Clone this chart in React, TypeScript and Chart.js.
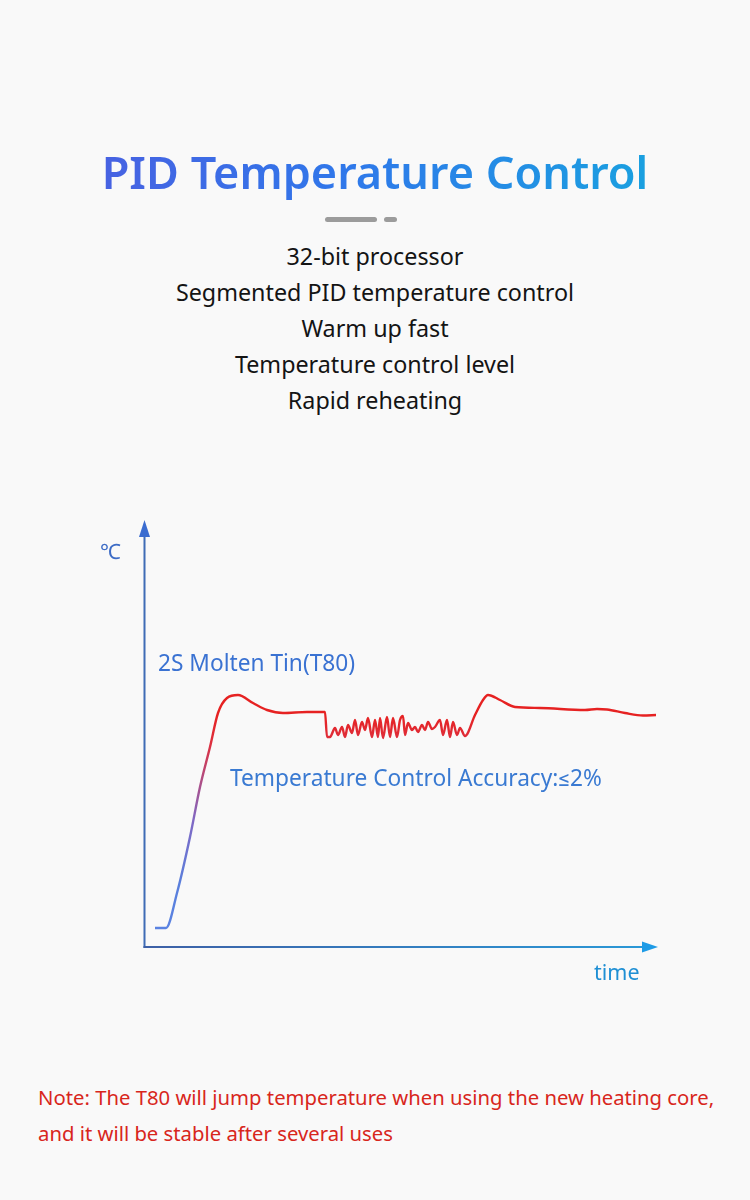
import React, { useEffect, useRef } from "react";
import { Chart, registerables } from "chart.js";

Chart.register(...registerables);

const TITLE = "PID Temperature Control";
const FEATURES = [
  "32-bit processor",
  "Segmented PID temperature control",
  "Warm up fast",
  "Temperature control level",
  "Rapid reheating",
];
const NOTE_LINES = [
  "Note: The T80 will jump temperature when using the new heating core,",
  "and it will be stable after several uses",
];
const Y_UNIT = "℃";
const X_LABEL = "time";
const SERIES_LABEL = "2S Molten Tin(T80)";
const ACCURACY_LABEL = "Temperature Control Accuracy:≤2%";

// time (arbitrary units) and temperature (arbitrary units)
const TIME = [
  1.0, 2.1, 3.2, 4.5, 5.5, 6.5, 7.3, 8.2, 9.3, 10.8, 12.2, 13.8, 16.2, 18.0, 18.2,
  18.5, 19.0, 19.3, 19.7, 20.0, 20.3, 20.7, 21.0, 21.3, 21.7, 22.0, 22.3, 22.7, 23.0,
  23.3, 23.5, 23.8, 24.2, 24.5, 24.8, 25.2, 25.5, 25.8, 26.0, 26.3, 26.7, 27.0, 27.3,
  27.7, 28.0, 28.3, 28.7, 29.0, 29.5, 29.8, 30.2, 30.5, 30.8, 31.2, 31.5, 32.0,
  33.0, 33.8, 34.3, 35.5, 37.0, 39.5, 44.0, 45.2, 46.2, 48.0, 49.8, 51.1,
];
const TEMP = [
  1.9, 1.9, 5.4, 11.0, 16.0, 20.0, 23.4, 24.9, 25.2, 24.4, 23.7, 23.4, 23.5, 23.5, 21.0,
  21.0, 21.9, 21.2, 22.0, 21.0, 22.2, 21.4, 22.7, 21.2, 22.5, 21.7, 22.9, 21.0, 22.7,
  21.0, 22.9, 20.9, 23.0, 21.0, 22.9, 21.0, 22.7, 23.1, 21.2, 22.4, 21.7, 22.0, 21.5,
  22.2, 21.7, 22.5, 21.8, 22.0, 22.7, 21.2, 22.7, 21.0, 22.5, 21.2, 21.9, 21.1,
  23.2, 24.7, 25.2, 24.7, 24.0, 23.9, 23.7, 23.8, 23.75, 23.4, 23.15, 23.2,
];
const X_MAX = 51.3;
const Y_MAX = 42.2;

const FONT = "'Noto Sans', Roboto, sans-serif";

const arrowAxes = {
  id: "arrowAxes",
  beforeDatasetsDraw(chart: any) {
    const { ctx, chartArea: a } = chart;
    ctx.save();
    const x0 = a.left - 0.5;
    const y0 = a.bottom;
    ctx.lineWidth = 2;
    ctx.strokeStyle = "#3f6cb6";
    ctx.beginPath();
    ctx.moveTo(x0, y0 + 1);
    ctx.lineTo(x0, a.top + 8);
    ctx.stroke();
    ctx.fillStyle = "#3a6cd0";
    ctx.beginPath();
    ctx.moveTo(x0, a.top - 5);
    ctx.lineTo(x0 - 5.5, a.top + 12);
    ctx.lineTo(x0 + 5.5, a.top + 12);
    ctx.closePath();
    ctx.fill();

    const g = ctx.createLinearGradient(x0, 0, a.right, 0);
    g.addColorStop(0, "#3e60a6");
    g.addColorStop(1, "#2a9ad8");
    ctx.strokeStyle = g;
    ctx.beginPath();
    ctx.moveTo(x0 - 1, y0);
    ctx.lineTo(a.right - 8, y0);
    ctx.stroke();
    ctx.fillStyle = "#1e9be6";
    ctx.beginPath();
    ctx.moveTo(a.right, y0);
    ctx.lineTo(a.right - 16, y0 - 5.5);
    ctx.lineTo(a.right - 16, y0 + 5.5);
    ctx.closePath();
    ctx.fill();
    ctx.restore();
  },
};

function TempChart() {
  const ref = useRef<HTMLCanvasElement>(null);
  useEffect(() => {
    if (!ref.current) return;
    const chart = new Chart(ref.current, {
      type: "line",
      data: {
        datasets: [
          {
            label: SERIES_LABEL,
            data: TIME.map((t, i) => ({ x: t, y: TEMP[i] })),
            borderWidth: 2.4,
            pointRadius: 0,
            cubicInterpolationMode: "monotone",
            borderColor: (c: any) => {
              const a = c.chart.chartArea;
              if (!a) return "#e8221e";
              const g = c.chart.ctx.createLinearGradient(0, a.bottom, 0, a.top);
              g.addColorStop(0, "#5a84e4");
              g.addColorStop(0.15, "#5a7fdc");
              g.addColorStop(0.3, "#8068c4");
              g.addColorStop(0.4, "#b24c80");
              g.addColorStop(0.48, "#dd3040");
              g.addColorStop(0.55, "#e62222");
              g.addColorStop(1, "#e62222");
              return g;
            },
            clip: false as any,
          },
        ],
      },
      options: {
        responsive: false,
        animation: false,
        devicePixelRatio: 1,
        layout: { padding: { left: 145, right: 92, top: 45, bottom: 53 } },
        plugins: { legend: { display: false }, title: { display: false }, tooltip: { enabled: false } },
        scales: {
          x: { type: "linear", min: 0, max: X_MAX, display: false },
          y: { type: "linear", min: 0, max: Y_MAX, display: false },
        },
      },
      plugins: [arrowAxes],
    });
    return () => chart.destroy();
  }, []);
  return (
    <canvas
      ref={ref}
      width={750}
      height={520}
      style={{ position: "absolute", left: 0, top: 480, width: 750, height: 520 }}
    />
  );
}

export default function App() {
  const abs = (s: React.CSSProperties): React.CSSProperties => ({ position: "absolute", whiteSpace: "nowrap", ...s });
  return (
    <div
      style={{
        position: "absolute",
        left: 0,
        top: 0,
        width: 750,
        height: 1200,
        background: "#f9f9f9",
        fontFamily: FONT,
        overflow: "hidden",
      }}
    >
      <div
        style={abs({
          left: 0,
          width: 750,
          top: 140,
          textAlign: "center",
          fontSize: 45,
          fontWeight: 600,
          lineHeight: "64px",
        })}
      >
        <span
          style={{
            background: "linear-gradient(90deg, #4762e2 0%, #2f78ea 45%, #1aa0e0 100%)",
            WebkitBackgroundClip: "text",
            backgroundClip: "text",
            color: "transparent",
          }}
        >
          {TITLE}
        </span>
      </div>
      <div style={abs({ left: 325, top: 217, width: 52, height: 5, borderRadius: 3, background: "#9c9c9c" })} />
      <div style={abs({ left: 384, top: 217, width: 13, height: 5, borderRadius: 3, background: "#9c9c9c" })} />
      {FEATURES.map((f, i) => (
        <div
          key={f}
          style={abs({
            left: 0,
            width: 750,
            top: 241 + i * 36,
            textAlign: "center",
            fontSize: 23.3,
            lineHeight: "30px",
            color: "#141414",
          })}
        >
          {f}
        </div>
      ))}
      <TempChart />
      <div style={abs({ left: 100, top: 537, fontSize: 21, lineHeight: "28px", color: "#3d6cc6" })}>{Y_UNIT}</div>
      <div style={abs({ left: 158, top: 649, fontSize: 22.7, lineHeight: "28px", color: "#3a72d2" })}>{SERIES_LABEL}</div>
      <div style={abs({ left: 230, top: 764, fontSize: 22.7, lineHeight: "28px", color: "#3a7ad2" })}>
        {ACCURACY_LABEL}
      </div>
      <div style={abs({ left: 594, top: 958, fontSize: 21.5, lineHeight: "28px", color: "#1e8fd4" })}>{X_LABEL}</div>
      {NOTE_LINES.map((l, i) => (
        <div
          key={l}
          style={abs({
            left: 38,
            top: 1083 + i * 36,
            fontSize: 20.3,
            lineHeight: "28px",
            color: "#d8261c",
          })}
        >
          {l}
        </div>
      ))}
    </div>
  );
}
